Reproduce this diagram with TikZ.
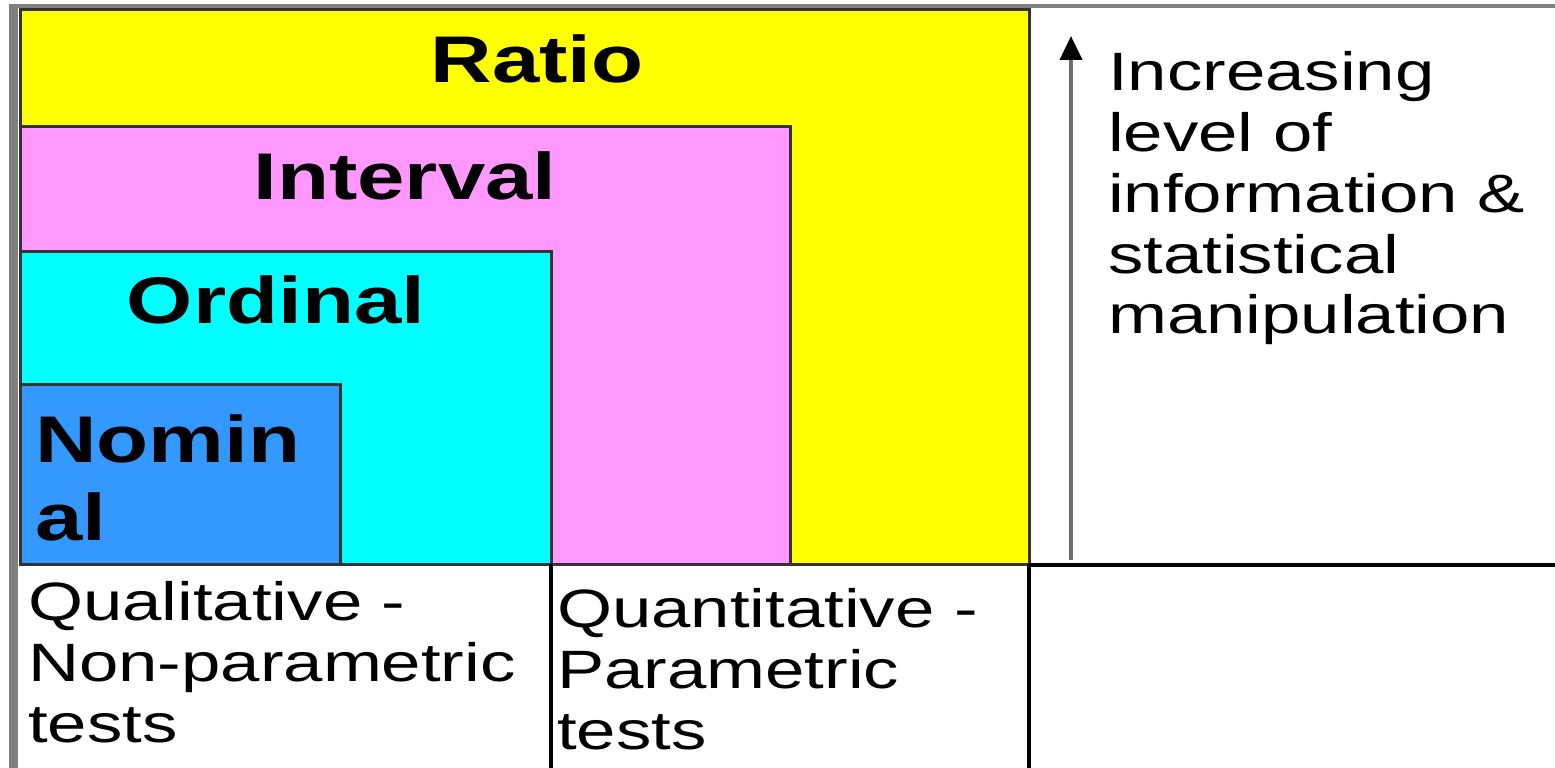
\documentclass[tikz,border=0pt]{standalone}
\usepackage{fontspec}
\newfontfamily\regfont{Liberation Sans}[FakeStretch=1.31]
\newfontfamily\boldfont{Liberation Sans}[FakeStretch=1.29]
\usetikzlibrary{arrows.meta}
\definecolor{ratioY}{HTML}{FFFF00}
\definecolor{intP}{HTML}{FF99FF}
\definecolor{ordC}{HTML}{00FFFF}
\definecolor{nomB}{HTML}{3399FF}
\definecolor{frameG}{HTML}{808080}
\definecolor{edgeD}{HTML}{333333}
\begin{document}
\begin{tikzpicture}[x=1pt,y=-1pt,
  levelbox/.style={draw=edgeD, line width=3pt},
  big/.style={inner sep=0pt, font=\boldfont\bfseries\fontsize{66}{78}\selectfont},
  small/.style={inner sep=0pt, anchor=base west, font=\regfont\fontsize{54}{61}\selectfont},
  rulex/.style={draw=black, line width=4pt}]
\useasboundingbox (0,0) rectangle (1555,768);
\fill[white] (0,0) rectangle (1555,768);
% gray frame
\fill[frameG] (9,4) rectangle (1555,8);
\fill[frameG] (9,4) rectangle (18,768);
% nested level boxes
\draw[levelbox, fill=ratioY] (20,10) rectangle (1029,564);
\draw[levelbox, fill=intP] (20,126) rectangle (790,564);
\draw[levelbox, fill=ordC] (20,251) rectangle (551,564);
\draw[levelbox, fill=nomB] (20,384) rectangle (340,564);
% labels
\node[big, anchor=base] (ratio) at (537,82) {Ratio};
\node[big, anchor=base] (interval) at (405,199) {Interval};
\node[big, anchor=base] (ordinal) at (276,323) {Ordinal};
\node[big, anchor=base west] (nominal) at (35,462) {\vtop{\hbox{Nomin}\hbox{al}}};
% bottom rules
\draw[rulex] (1029,565) -- (1555,565);
\draw[rulex] (551,564) -- (551,768);
\draw[rulex] (1029,564) -- (1029,768);
% bottom texts
\node[small] (qual) at (28,620) {\vtop{\hbox{Qualitative -}\hbox{Non-parametric}\hbox{tests}}};
\node[small] (quant) at (557,627) {\vtop{\hbox{Quantitative -}\hbox{Parametric}\hbox{tests}}};
% arrow and text
\coordinate (abot) at (1071,560);
\coordinate (atop) at (1071,36);
\draw[draw=frameG!85!black, line width=4pt, -{Triangle[width=22pt,length=24pt,color=black]}] (abot) -- (atop);
\node[small] (info) at (1108,90) {\vtop{\hbox{Increasing}\hbox{level of}\hbox{information \&}\hbox{statistical}\hbox{manipulation}}};
\end{tikzpicture}
\end{document}
